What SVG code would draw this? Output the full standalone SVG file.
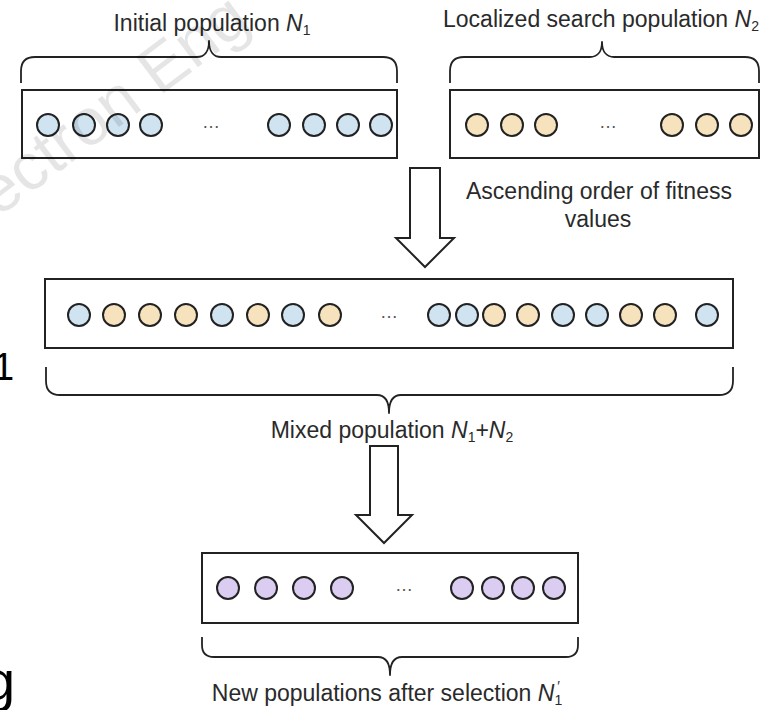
<svg xmlns="http://www.w3.org/2000/svg" width="773" height="710" viewBox="0 0 773 710">
<style>
  .box { fill: #ffffff; stroke: #222222; stroke-width: 2; }
  .brace { fill: none; stroke: #222222; stroke-width: 1.8; stroke-linejoin: round; }
  .c { stroke: #222222; stroke-width: 2; }
  .b { fill: #cfe3f1; }
  .t { fill: #f6e2bd; }
  .p { fill: #dacdf1; }
  .lbl { font-family: "Liberation Sans", Arial, sans-serif; font-size: 23px; fill: #2a2a2a; text-anchor: middle; }
  .sub { font-size: 14px; }
  .dots { font-family: "Liberation Sans", Arial, sans-serif; font-size: 18px; fill: #555555; text-anchor: middle; }
  .arrow { fill: #ffffff; stroke: #222222; stroke-width: 2; stroke-linejoin: miter; }
  .wm { font-family: "Liberation Sans", Arial, sans-serif; font-size: 66px; fill: #000000; fill-opacity: 0.1; }
  .edge { font-family: "Liberation Sans", Arial, sans-serif; fill: #000000; }
</style>
<rect width="773" height="710" fill="#ffffff"/>
<text class="edge" x="-7" y="380" font-size="38">1</text>
<text class="edge" x="-16" y="700" font-size="56">g</text>

<g id="node-initial">
  <text class="lbl" x="212" y="31">Initial population <tspan font-style="italic">N</tspan><tspan class="sub" dy="4">1</tspan></text>
  <path class="brace" d="M21,83 V71 Q21,57 35,57 H197 C204,57 209,52 209,41 C209,52 214,57 221,57 H383 Q397,57 397,71 V83"/>
  <rect class="box" x="22" y="90" width="375" height="68"/>
  <circle class="c b" cx="48" cy="125" r="11"/>
  <circle class="c b" cx="84" cy="125" r="11"/>
  <circle class="c b" cx="118" cy="125" r="11"/>
  <circle class="c b" cx="151" cy="125" r="11"/>
  <text class="dots" x="211" y="128">…</text>
  <circle class="c b" cx="279" cy="125" r="11"/>
  <circle class="c b" cx="314" cy="125" r="11"/>
  <circle class="c b" cx="348" cy="125" r="11"/>
  <circle class="c b" cx="381" cy="125" r="11"/>
</g>

<g id="node-local">
  <text class="lbl" x="601" y="27">Localized search population <tspan font-style="italic">N</tspan><tspan class="sub" dy="4">2</tspan></text>
  <path class="brace" d="M450,83 V71 Q450,57 464,57 H590 C597,57 602,52 602,42 C602,52 607,57 614,57 H745 Q759,57 759,71 V83"/>
  <rect class="box" x="450" y="90" width="309" height="68"/>
  <circle class="c t" cx="477" cy="125" r="11"/>
  <circle class="c t" cx="512" cy="125" r="11"/>
  <circle class="c t" cx="546" cy="125" r="11"/>
  <text class="dots" x="608" y="128">…</text>
  <circle class="c t" cx="672" cy="125" r="11"/>
  <circle class="c t" cx="707" cy="125" r="11"/>
  <circle class="c t" cx="741" cy="125" r="11"/>
</g>

<g id="node-mixed">
  <rect class="box" x="45" y="279" width="688" height="69"/>
  <circle class="c b" cx="79" cy="315" r="11"/>
  <circle class="c t" cx="114" cy="315" r="11"/>
  <circle class="c t" cx="150" cy="315" r="11"/>
  <circle class="c t" cx="186" cy="315" r="11"/>
  <circle class="c b" cx="222" cy="315" r="11"/>
  <circle class="c t" cx="258" cy="315" r="11"/>
  <circle class="c b" cx="293" cy="315" r="11"/>
  <circle class="c t" cx="330" cy="315" r="11"/>
  <text class="dots" x="389" y="318">…</text>
  <circle class="c b" cx="439" cy="315" r="11"/>
  <circle class="c b" cx="467" cy="315" r="11"/>
  <circle class="c t" cx="494" cy="315" r="11"/>
  <circle class="c t" cx="528" cy="315" r="11"/>
  <circle class="c b" cx="563" cy="315" r="11"/>
  <circle class="c b" cx="597" cy="315" r="11"/>
  <circle class="c t" cx="631" cy="315" r="11"/>
  <circle class="c t" cx="665" cy="315" r="11"/>
  <circle class="c b" cx="707" cy="315" r="11"/>
  <path class="brace" d="M46,367 V381 Q46,395 60,395 H377 C384,395 389,400 389,413 C389,400 394,395 401,395 H719 Q733,395 733,381 V367"/>
  <text class="lbl" x="392" y="438">Mixed population <tspan font-style="italic">N</tspan><tspan class="sub" dy="4">1</tspan><tspan dy="-4">+</tspan><tspan font-style="italic">N</tspan><tspan class="sub" dy="4">2</tspan></text>
</g>

<g id="node-new">
  <rect class="box" x="202" y="553" width="376" height="70"/>
  <circle class="c p" cx="228" cy="588" r="11"/>
  <circle class="c p" cx="266" cy="588" r="11"/>
  <circle class="c p" cx="304" cy="588" r="11"/>
  <circle class="c p" cx="342" cy="588" r="11"/>
  <text class="dots" x="404" y="591">…</text>
  <circle class="c p" cx="462" cy="588" r="11"/>
  <circle class="c p" cx="493" cy="588" r="11"/>
  <circle class="c p" cx="523" cy="588" r="11"/>
  <circle class="c p" cx="554" cy="588" r="11"/>
  <path class="brace" d="M202,637 V645 Q202,657 214,657 H378 C385,657 390,662 390,675 C390,662 395,657 402,657 H566 Q578,657 578,645 V637"/>
  <text class="lbl" x="387" y="701">New populations after selection <tspan font-style="italic">N</tspan><tspan class="sub" dy="4">1</tspan><tspan class="sub" dx="-5" dy="-14">′</tspan></text>
</g>

<g id="connectors">
  <path class="arrow" d="M410,168 H440 V238 H454 L425,267 L396,238 H410 Z"/>
  <text class="lbl" x="599" y="199">Ascending order of fitness</text>
  <text class="lbl" x="598" y="227">values</text>
  <path class="arrow" d="M370,446 H398 V515 H412 L384,543 L356,515 H370 Z"/>
</g>

<text class="wm" transform="translate(-2,218) rotate(-37)">ectron Eng</text>
</svg>
